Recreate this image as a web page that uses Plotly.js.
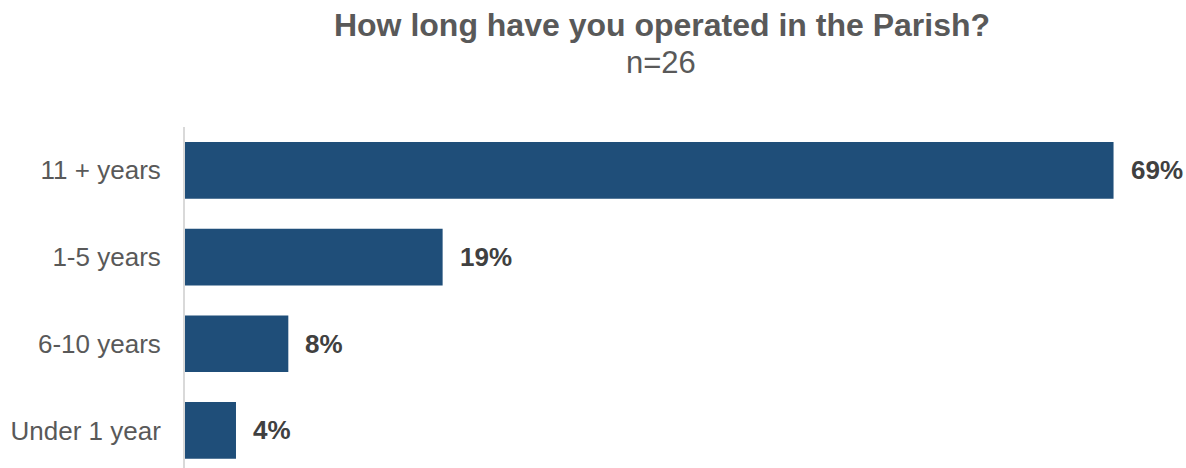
<!DOCTYPE html>
<html>
<head>
<meta charset="utf-8">
<script src="https://cdn.plot.ly/plotly-3.0.1.min.js"></script>
<style>
  html, body { margin: 0; padding: 0; background: #ffffff; }
  #chart { width: 1186px; height: 468px; }
</style>
</head>
<body>
<div id="chart"></div>
<script>
const categories = ["11 + years", "1-5 years", "6-10 years", "Under 1 year"];
const percentValues = [69.2, 19.2, 7.7, 3.8];
const valueLabels = ["69%", "19%", "8%", "4%"];
const chartTitle = "How long have you operated in the Parish?";
const chartSubtitle = "n=26";

const FONT = "Liberation Sans, Arial, sans-serif";

const trace = {
  type: "bar",
  orientation: "h",
  y: categories,
  x: percentValues,
  marker: { color: "#1F4E79" },
  hoverinfo: "skip",
  textposition: "none"
};

const annotations = categories.map((c, i) => ({
  x: percentValues[i],
  y: c,
  xref: "x",
  yref: "y",
  text: "<b>" + valueLabels[i] + "</b>",
  showarrow: false,
  xanchor: "left",
  yanchor: "middle",
  xshift: 15,
  font: { family: FONT, size: 26, color: "#404040" }
}));

annotations.push({
  text: chartSubtitle,
  x: (661 - 185) / 1001,
  xref: "paper",
  y: 1 + (127 - 63) / 341,
  yref: "paper",
  xanchor: "center",
  yanchor: "middle",
  showarrow: false,
  font: { family: FONT, size: 31, color: "#595959" }
});

const layout = {
  width: 1186,
  height: 468,
  paper_bgcolor: "#ffffff",
  plot_bgcolor: "#ffffff",
  margin: { l: 185, r: 0, t: 127, b: 0 },
  showlegend: false,
  bargap: 0.346,
  title: {
    text: "<b>" + chartTitle + "</b>",
    x: 662 / 1186,
    xref: "container",
    xanchor: "center",
    y: 1 - 25 / 468,
    yref: "container",
    yanchor: "middle",
    font: { family: FONT, size: 32, color: "#595959" }
  },
  xaxis: {
    range: [0, 74.6],
    showgrid: false,
    zeroline: false,
    showline: false,
    showticklabels: false,
    ticks: "",
    fixedrange: true
  },
  yaxis: {
    type: "category",
    categoryorder: "array",
    categoryarray: categories,
    range: [3.433, -0.5],
    autorange: false,
    showgrid: false,
    zeroline: false,
    showline: true,
    linecolor: "#d9d9d9",
    linewidth: 2,
    ticks: "",
    ticklabelstandoff: 17,
    tickfont: { family: FONT, size: 26, color: "#595959" },
    fixedrange: true
  },
  annotations: annotations
};

Plotly.newPlot("chart", [trace], layout, { displayModeBar: false, staticPlot: true });
</script>
</body>
</html>
